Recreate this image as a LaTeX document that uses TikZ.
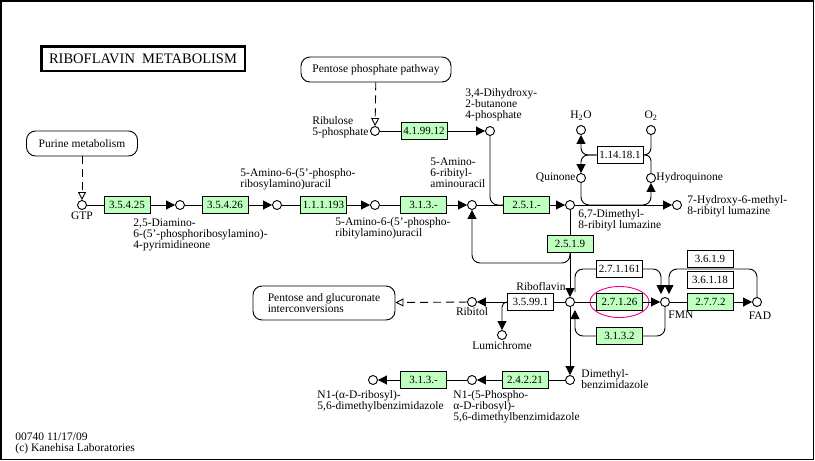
\documentclass[tikz,border=0pt]{standalone}
\usepackage{fontspec}
\setmainfont{Liberation Serif}
\usetikzlibrary{arrows.meta,calc}
\definecolor{enzgreen}{HTML}{BFFFBF}

\begin{document}
\begin{tikzpicture}[x=1pt,y=-1pt,line width=0.9pt]
 \tikzset{
  every node/.style={font=\fontsize{11.5}{11}\selectfont},
  compound/.style={draw,circle,fill=white,minimum size=9pt,inner sep=0pt},
  enzyme/.style={draw,fill=enzgreen,minimum width=46pt,minimum height=17pt,
    inner sep=0pt,font=\fontsize{11}{11}\selectfont},
  enzyme white/.style={enzyme,fill=white},
  map box/.style={draw,rounded corners=9pt,fill=white,minimum height=25pt,
    inner sep=0pt,align=left},
  cpdname/.style={inner sep=0pt,align=left},
  arr/.style={-{Triangle[length=9pt,width=9pt]}},
  link/.style={dash pattern=on 8pt off 5pt,-{Triangle[open,length=8pt,width=8pt]}}
 }
\useasboundingbox (0,0) rectangle (815,461);
\draw[line width=1.5pt] (0.75,0.75) rectangle (813.25,459.25);

\node[draw,line width=2.5pt,minimum width=203.5pt,minimum height=24.5pt,inner sep=0pt,
  font=\fontsize{14.5}{15}\selectfont] (title) at (143,58.5) {RIBOFLAVIN\ \ METABOLISM};

\node[map box,minimum width=150pt] (ppp) at (376,69.5) {Pentose phosphate pathway};
\node[map box,minimum width=111pt] (purine) at (82,143.5) {Purine metabolism};
\node[map box,minimum width=142pt,minimum height=34pt] (pgi) at (324,303)
  {Pentose and glucuronate\\interconversions};

\node[compound] (gtp) at (82,205) {};
\node[compound] (dapp) at (180,205) {};
\node[compound] (arpu) at (277,205) {};
\node[compound] (arpu2) at (375,205) {};
\node[compound] (arau) at (472,205) {};
\node[compound] (dmrl) at (570,205) {};
\node[compound] (hmrl) at (677,205) {};
\node[compound] (rib5p) at (375,131) {};
\node[compound] (dhbp) at (490,131) {};
\node[compound] (h2o) at (581,130) {};
\node[compound] (o2) at (651,130) {};
\node[compound] (quin) at (581,178) {};
\node[compound] (hydq) at (651,178) {};
\node[compound] (ribf) at (570,302) {};
\node[compound] (ribitol) at (472,302) {};
\node[compound] (lumi) at (502,335) {};
\node[compound] (fmn) at (665,302) {};
\node[compound] (fad) at (757,302) {};
\node[compound] (dmb) at (570,380) {};
\node[compound] (n1p) at (472,380) {};
\node[compound] (n1r) at (373,380) {};

\node[enzyme] (e35425) at (127,205) {3.5.4.25};
\node[enzyme] (e35426) at (225,205) {3.5.4.26};
\node[enzyme] (e111193) at (323.5,205) {1.1.1.193};
\node[enzyme] (e313a) at (423.5,205) {3.1.3.-};
\node[enzyme] (e251) at (526.5,205) {2.5.1.-};
\node[enzyme] (e419912) at (424,131) {4.1.99.12};
\node[enzyme] (e2519) at (570,244) {2.5.1.9};
\node[enzyme white] (e114181) at (620,155) {1.14.18.1};
\node[enzyme white] (e35991) at (530.5,302) {3.5.99.1};
\node[enzyme] (e27126) at (619.5,302) {2.7.1.26};
\node[enzyme white] (e271161) at (619.5,269) {2.7.1.161};
\node[enzyme] (e3132) at (619.5,336) {3.1.3.2};
\node[enzyme white] (e3619) at (710,259) {3.6.1.9};
\node[enzyme white] (e36118) at (710,279.5) {3.6.1.18};
\node[enzyme] (e2772) at (710.5,302) {2.7.7.2};
\node[enzyme] (e24221) at (525,380) {2.4.2.21};
\node[enzyme] (e313b) at (423.5,380) {3.1.3.-};
\draw[magenta] (e27126) ellipse [x radius=29.5pt,y radius=15.5pt];

\draw[link] (purine) -- (gtp);
\draw[link] (ppp) -- (rib5p);
\draw (gtp) -- (e35425); \draw[arr] (e35425) -- (dapp);
\draw (dapp) -- (e35426); \draw[arr] (e35426) -- (arpu);
\draw (arpu) -- (e111193); \draw[arr] (e111193) -- (arpu2);
\draw (arpu2) -- (e313a); \draw[arr] (e313a) -- (arau);
\draw (arau) -- (e251); \draw[arr] (e251) -- (dmrl);
\draw[arr] (dmrl) -- (hmrl);
\draw (rib5p) -- (e419912); \draw[arr] (e419912) -- (dhbp);
\draw[rounded corners=8pt] (dhbp) |- (e251.west);

\draw[arr,rounded corners=7pt] (e114181.west) -| (h2o);
\draw[arr,rounded corners=7pt] (e114181.west) -| (quin);
\draw[rounded corners=7pt] (o2) |- (e114181.east);
\draw[rounded corners=6pt] (e114181.east) -| (hydq);
\draw[arr,rounded corners=8pt] (quin) |- (dmrl -| hydq) -- (hydq);

\draw (dmrl) -- (e2519); \draw[arr] (e2519) -- (ribf);
\draw[arr,rounded corners=8pt] (e2519.south) |- ($(arau)+(0,58)$) -- (arau);
\draw (ribf) -- (e35991); \draw[arr] (e35991) -- (ribitol);
\draw[arr,rounded corners=5pt] (e35991.west) -| (lumi);
\draw[link] (ribitol) -- (pgi);
\draw (ribf) -- (e27126); \draw[arr] (e27126) -- (fmn);
\draw[rounded corners=8pt] ($(ribf)+(5,-10)$) |- (e271161.west);
\draw[arr,rounded corners=8pt] (e271161.east) -| ($(fmn)+(-4,-8)$);
\draw[rounded corners=8pt] (fmn) |- (e3132.east);
\draw[arr,rounded corners=8pt] (e3132.west) -| ($(ribf)+(5,8)$);
\draw (fmn) -- (e2772); \draw[arr] (e2772) -- (fad);
\draw[arr,rounded corners=8pt] (fad) |- ($(fmn)+(4,-33)$) -- ($(fmn)+(4,-8)$);
\draw[arr] (ribf) -- (dmb);
\draw (dmb) -- (e24221); \draw[arr] (e24221) -- (n1p);
\draw (n1p) -- (e313b); \draw[arr] (e313b) -- (n1r);

\node[cpdname,anchor=north] (gtpname) at (82,211) {GTP};
\node[cpdname,anchor=east] (rib5pname) at (369,127) {Ribulose\\5-phosphate};
\node[cpdname,anchor=north west] (dhbpname) at (465,88) {3,4-Dihydroxy-\\2-butanone\\4-phosphate};
\node[cpdname,anchor=north west] (dappname) at (133,218)
  {2,5-Diamino-\\6-(5'-phosphoribosylamino)-\\4-pyrimidineone};
\node[cpdname,anchor=north west] (arpuname) at (240,168) {5-Amino-6-(5'-phospho-\\ribosylamino)uracil};
\node[cpdname,anchor=north west] (arpu2name) at (335,217) {5-Amino-6-(5'-phospho-\\ribitylamino)uracil};
\node[cpdname,anchor=north west] (arauname) at (430,157) {5-Amino-\\6-ribityl-\\aminouracil};
\node[cpdname,anchor=north west] (dmrlname) at (578,209) {6,7-Dimethyl-\\8-ribityl lumazine};
\node[cpdname,anchor=north west] (hmrlname) at (687,195) {7-Hydroxy-6-methyl-\\8-ribityl lumazine};
\node[cpdname,anchor=south] (h2oname) at (581,121) {H\textsubscript{2}O};
\node[cpdname,anchor=south] (o2name) at (651,121) {O\textsubscript{2}};
\node[cpdname,anchor=east] (quinname) at (576,178) {Quinone};
\node[cpdname,anchor=west] (hydqname) at (656,178) {Hydroquinone};
\node[cpdname,anchor=base east] (ribfname) at (566,290) {Riboflavin};
\node[cpdname,anchor=north] (ribitolname) at (472,307) {Ribitol};
\node[cpdname,anchor=north] (luminame) at (502,341) {Lumichrome};
\node[cpdname,anchor=north west] (fmnname) at (668,311) {FMN};
\node[cpdname,anchor=north] (fadname) at (760,311) {FAD};
\node[cpdname,anchor=north west] (dmbname) at (581,369) {Dimethyl-\\benzimidazole};
\node[cpdname,anchor=north west] (n1pname) at (453,390)
  {N1-(5-Phospho-\\α-D-ribosyl)-\\5,6-dimethylbenzimidazole};
\node[cpdname,anchor=north west] (n1rname) at (317,390) {N1-(α-D-ribosyl)-\\5,6-dimethylbenzimidazole};
\node[cpdname,anchor=north west] (stamp) at (15,432) {00740 11/17/09\\(c) Kanehisa Laboratories};
\end{tikzpicture}
\end{document}
